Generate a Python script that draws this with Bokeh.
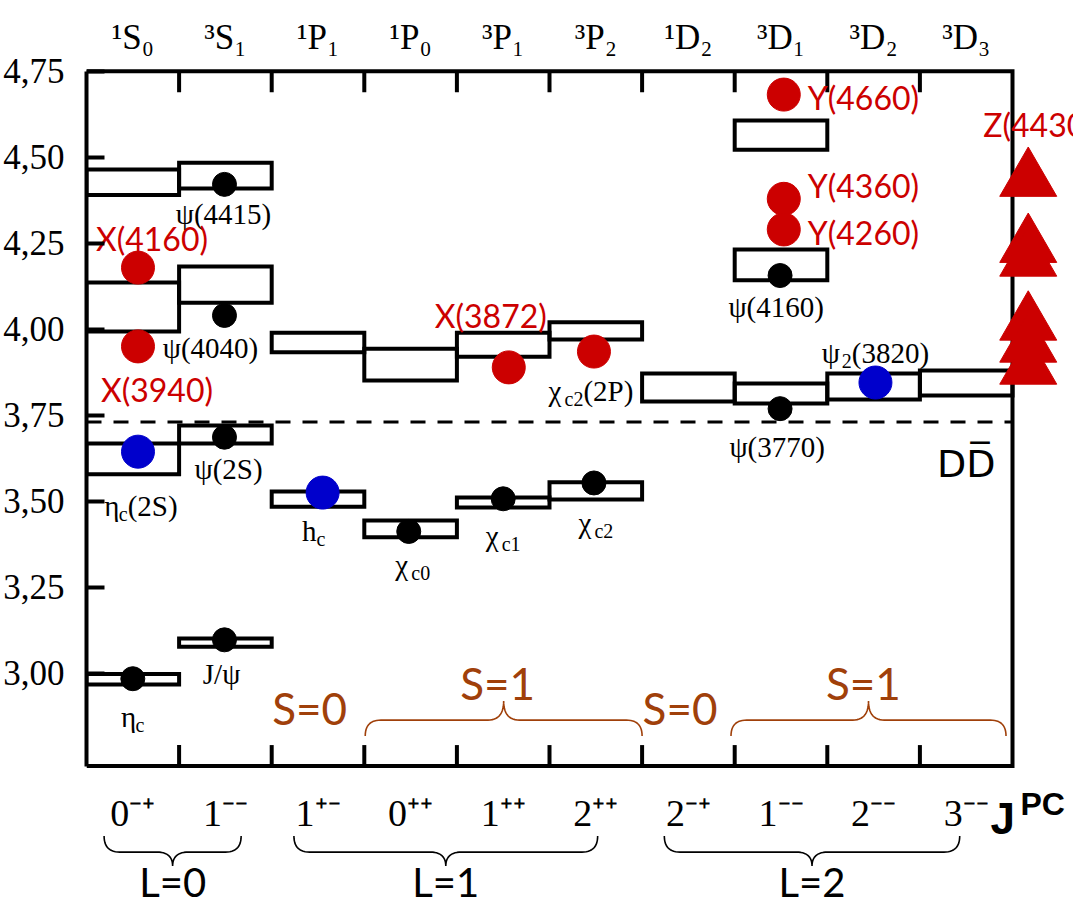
import numpy as np
from bokeh.plotting import figure
from bokeh.models import Range1d, FixedTicker, ColumnDataSource
from bokeh.core.properties import value
from bokeh.embed import file_html
from bokeh.resources import INLINE

# ------------------------------------------------------------------ data
spectroscopic = ["¹S₀", "³S₁", "¹P₁", "¹P₀", "³P₁", "³P₂", "¹D₂", "³D₁", "³D₂", "³D₃"]
jpc_labels = ["0⁻⁺", "1⁻⁻", "1⁺⁻", "0⁺⁺", "1⁺⁺", "2⁺⁺", "2⁻⁺", "1⁻⁻", "2⁻⁻", "3⁻⁻"]
mass_ticks = [3.00, 3.25, 3.50, 3.75, 4.00, 4.25, 4.50, 4.75]
mass_tick_labels = ["3,00", "3,25", "3,50", "3,75", "4,00", "4,25", "4,50", "4,75"]
mass_min, mass_max = 2.73, 4.75

# predicted levels (boxes): column, lower mass, upper mass (GeV)
box_column = [0, 0, 0, 0, 1, 1, 1, 1, 2, 2, 3, 3, 4, 4, 5, 5, 6, 7, 7, 7, 8, 9]
box_low = [4.390, 3.993, 3.578, 2.967, 4.409, 4.077, 3.668, 3.077, 3.933, 3.484,
           3.851, 3.395, 3.920, 3.482, 3.970, 3.505, 3.790, 4.522, 4.142, 3.784,
           3.796, 3.807]
box_high = [4.464, 4.136, 3.668, 2.998, 4.484, 4.182, 3.720, 3.101, 3.990, 3.528,
            3.943, 3.444, 3.990, 3.511, 4.020, 3.555, 3.871, 4.607, 4.232, 3.842,
            3.871, 3.880]

dd_threshold = 3.73
dd_label = "DD\u0305"

# observed conventional states (black)
black_names = ["η_c", "J/ψ", "ψ(2S)", "ψ(4040)", "ψ(4415)", "χ_c0", "χ_c1", "χ_c2", "ψ(4160)", "ψ(3770)"]
black_x = [0.50, 1.49, 1.49, 1.49, 1.49, 3.48, 4.50, 5.48, 7.49, 7.49]
black_mass = [2.984, 3.097, 3.686, 4.040, 4.421, 3.412, 3.507, 3.553, 4.156, 3.769]

# recently observed conventional states (blue)
blue_names = ["η_c(2S)", "h_c", "ψ_2(3820)"]
blue_x = [0.556, 2.55, 8.52]
blue_mass = [3.644, 3.525, 3.845]

# unexpected / exotic candidates (red circles)
red_names = ["X(4160)", "X(3940)", "X(3872)", "χ_c2(2P)", "Y(4660)", "Y(4360)", "Y(4260)"]
red_x = [0.556, 0.556, 4.56, 5.48, 7.53, 7.53, 7.53]
red_mass = [4.179, 3.950, 3.889, 3.935, 4.682, 4.379, 4.290]

# charged states (red triangles)
z_name = "Z(4430)"
z_x = [10.17, 10.17, 10.17, 10.17, 10.17, 10.17]
z_mass = [4.434, 4.242, 4.202, 4.016, 3.952, 3.888]

# spin / orbital groupings
s_labels = ["S=0", "S=1", "S=0", "S=1"]
s_label_x = [2.41, 4.44, 6.41, 8.39]
s_brace_start = [None, 3.01, None, 6.96]
s_brace_end = [None, 6.00, None, 9.93]
l_labels = ["L=0", "L=1", "L=2"]
l_brace_start = [0.19, 2.24, 6.24]
l_brace_end = [1.67, 5.52, 9.43]

# ------------------------------------------------------------------ layout / style
W_PX, H_PX = 1073, 907
LEFT = 86
PX_X = 92.6      # pixels per column
PX_Y = 344.0     # pixels per GeV
TOP_PAD = 70.7
SERIF = "Liberation Serif"
SANS = "Lato"
RED = "#CC0000"
BLUE = "#0000CC"
BROWN = "#A0400A"

n_cols = len(spectroscopic)
x_end = (W_PX - LEFT) / PX_X
y_top = mass_max + TOP_PAD / PX_Y
y_bottom = y_top - H_PX / PX_Y

p = figure(width=W_PX, height=H_PX, x_range=Range1d(0, x_end), y_range=Range1d(y_bottom, y_top),
           output_backend="svg", toolbar_location=None, x_axis_location=None,
           y_axis_location="left", min_border_left=LEFT, min_border_right=0,
           min_border_top=0, min_border_bottom=0)
p.outline_line_color = None
p.grid.visible = False
p.background_fill_color = "white"
p.border_fill_color = "white"

ax = p.yaxis[0]
ax.ticker = FixedTicker(ticks=mass_ticks)
ax.major_label_overrides = {t: l for t, l in zip(mass_ticks, mass_tick_labels)}
ax.bounds = (mass_min, mass_max)
ax.axis_line_width = 4
ax.axis_line_color = "black"
ax.major_tick_in = 18
ax.major_tick_out = 0
ax.major_tick_line_width = 4
ax.minor_tick_line_color = None
ax.major_label_standoff = 22
ax.major_label_text_font = SERIF
ax.major_label_text_font_size = "35px"
ax.major_label_text_color = "black"

# frame (top, right, bottom)
p.line([0, n_cols, n_cols, 0], [mass_max, mass_max, mass_min, mass_min],
       line_color="black", line_width=4, line_join="miter")
tick_len = 21 / PX_Y
bx = list(range(1, n_cols))
p.segment(x0=bx, y0=[mass_max] * len(bx), x1=bx, y1=[mass_max - tick_len] * len(bx),
          line_color="black", line_width=4)
p.segment(x0=bx, y0=[mass_min] * len(bx), x1=bx, y1=[mass_min + tick_len] * len(bx),
          line_color="black", line_width=4)

# boxes
p.quad(left=box_column, right=[c + 1 for c in box_column], bottom=box_low, top=box_high,
       fill_alpha=0, line_color="black", line_width=4, line_join="miter")

# threshold
p.line([0, n_cols], [dd_threshold, dd_threshold], line_color="black", line_width=3,
       line_dash="15 12")
p.text(x=[n_cols - 0.5], y=[dd_threshold], text=[dd_label], y_offset=42,
       text_align="center", text_baseline="middle", text_font=value("DejaVu Sans"),
       text_font_size="38px", text_color="black")

# markers
p.scatter(black_x, black_mass, size=24, color="black")
p.scatter(blue_x, blue_mass, size=33, color=BLUE)
p.scatter(red_x, red_mass, size=33, color=RED)
p.scatter(z_x, z_mass, marker="triangle", size=57, color=RED)

# ---- labels
W = {'0': .5, '1': .5, '2': .5, '3': .5, '4': .5, '5': .5, '6': .5, '7': .5, '8': .5, '9': .5,
     '(': .333, ')': .333, 'S': .556, 'P': .556, 'J': .389, '/': .278, 'h': .5, 'c': .444,
     'η': .5, 'χ': .55, 'ψ': .69}


def split_name(name):
    if "_" not in name:
        return [(name, False)]
    main, rest = name.split("_", 1)
    if "(" in rest:
        i = rest.index("(")
        return [(main, False), (rest[:i], True), (rest[i:], False)]
    return [(main, False), (rest, True)]


main_src = dict(x=[], y=[], text=[], xo=[], yo=[])
sub_src = dict(x=[], y=[], text=[], xo=[], yo=[])
SER_SIZE = 29
SUB_SIZE = 20


def add_serif(x, y, name, dx, dy):
    parts = split_name(name)
    widths = [sum(W.get(ch, .5) for ch in t) * (SUB_SIZE if s else SER_SIZE) for t, s in parts]
    cur = dx - sum(widths) / 2
    for (t, s), w in zip(parts, widths):
        d = sub_src if s else main_src
        d["x"].append(x); d["y"].append(y); d["text"].append(t)
        d["xo"].append(cur); d["yo"].append(dy + (8 if s else 0))
        cur += w


black_dx = [0, -2, 5, -13, 0, 4, 0, 2, -3, -2]
black_dy = [38, 34, 32, 33, 30, 34, 37, 40, 31, 38]
for x, m, n, dx, dy in zip(black_x, black_mass, black_names, black_dx, black_dy):
    add_serif(x, m, n, dx, dy)

blue_dx = [3, -9, 0]
blue_dy = [54, 38, -30]
for x, m, n, dx, dy in zip(blue_x, blue_mass, blue_names, blue_dx, blue_dy):
    add_serif(x, m, n, dx, dy)

red_dx = [14, 19, -18, -3, 24, 24, 24]
red_dy = [-29, 43, -52, 39, 3, -13, 3]
red_kind = ["c", "c", "c", "serif", "l", "l", "l"]
rc = dict(x=[], y=[], text=[], xo=[], yo=[])
rl = dict(x=[], y=[], text=[], xo=[], yo=[])
for x, m, n, dx, dy, k in zip(red_x, red_mass, red_names, red_dx, red_dy, red_kind):
    if k == "serif":
        add_serif(x, m, n, dx, dy)
        continue
    d = rc if k == "c" else rl
    d["x"].append(x); d["y"].append(m); d["text"].append(n); d["xo"].append(dx); d["yo"].append(dy)
rl["x"].append(z_x[0]); rl["y"].append(z_mass[0]); rl["text"].append(z_name)
rl["xo"].append(-45); rl["yo"].append(-55)

p.text(x="x", y="y", text="text", x_offset="xo", y_offset="yo", source=ColumnDataSource(main_src),
       text_align="left", text_baseline="middle", text_font=value(SERIF),
       text_font_size=f"{SER_SIZE}px", text_color="black")
p.text(x="x", y="y", text="text", x_offset="xo", y_offset="yo", source=ColumnDataSource(sub_src),
       text_align="left", text_baseline="middle", text_font=value(SERIF),
       text_font_size=f"{SUB_SIZE}px", text_color="black")
p.text(x="x", y="y", text="text", x_offset="xo", y_offset="yo", source=ColumnDataSource(rc),
       text_align="center", text_baseline="middle", text_font=value(SANS),
       text_font_size="32px", text_color=RED)
p.text(x="x", y="y", text="text", x_offset="xo", y_offset="yo", source=ColumnDataSource(rl),
       text_align="left", text_baseline="middle", text_font=value(SANS),
       text_font_size="32px", text_color=RED)

# column headers and J^PC row
centers = [i + 0.5 for i in range(n_cols)]
p.text(x=centers, y=[mass_max] * n_cols, text=spectroscopic, y_offset=-34,
       text_align="center", text_baseline="middle", text_font=value(SERIF),
       text_font_size="35px", text_color="black")
p.text(x=centers, y=[mass_min] * n_cols, text=jpc_labels, y_offset=47,
       text_align="center", text_baseline="middle", text_font=value(SERIF),
       text_font_size="38px", text_color="black")
p.text(x=[n_cols], y=[mass_min], text=["J"], x_offset=-22, y_offset=52,
       text_align="left", text_baseline="middle", text_font=value("Liberation Sans"),
       text_font_style="bold", text_font_size="44px", text_color="black")
p.text(x=[n_cols], y=[mass_min], text=["PC"], x_offset=8, y_offset=38,
       text_align="left", text_baseline="middle", text_font=value("Liberation Sans"),
       text_font_style="bold", text_font_size="32px", text_color="black")


# braces
def brace(x0, x1, y_end, y_mid, y_cusp, rx, n=14):
    xc = 0.5 * (x0 + x1)
    t = np.linspace(0, 1, n)

    def qb(a, c, b):
        return ((1 - t) ** 2 * a[0] + 2 * (1 - t) * t * c[0] + t ** 2 * b[0],
                (1 - t) ** 2 * a[1] + 2 * (1 - t) * t * c[1] + t ** 2 * b[1])
    segs = [qb((x0, y_end), (x0, y_mid), (x0 + rx, y_mid)),
            qb((xc - rx, y_mid), (xc, y_mid), (xc, y_cusp)),
            qb((xc, y_cusp), (xc, y_mid), (xc + rx, y_mid)),
            qb((x1 - rx, y_mid), (x1, y_mid), (x1, y_end))]
    return list(np.concatenate([s[0] for s in segs])), list(np.concatenate([s[1] for s in segs]))


sx, sy = [], []
for a, b in zip(s_brace_start, s_brace_end):
    if a is None:
        continue
    xs, ys = brace(a, b, mass_min + 30 / PX_Y, mass_min + 46 / PX_Y, mass_min + 65 / PX_Y, 0.17)
    sx.append(xs); sy.append(ys)
p.multi_line(sx, sy, line_color=BROWN, line_width=1.6)
s_dy = [-58 if lab == "S=0" else -83 for lab in s_labels]
p.text(x=s_label_x, y=[mass_min] * len(s_labels), text=s_labels, y_offset=s_dy,
       text_align="center", text_baseline="middle", text_font=value(SANS),
       text_font_size="44px", text_color=BROWN)

lx, ly = [], []
for a, b in zip(l_brace_start, l_brace_end):
    xs, ys = brace(a, b, mass_min - 70 / PX_Y, mass_min - 86 / PX_Y, mass_min - 100 / PX_Y, 0.17)
    lx.append(xs); ly.append(ys)
p.multi_line(lx, ly, line_color="black", line_width=1.6)
p.text(x=[(a + b) / 2 for a, b in zip(l_brace_start, l_brace_end)], y=[mass_min] * 3,
       text=l_labels, y_offset=116, text_align="center", text_baseline="middle",
       text_font=value(SANS), text_font_size="40px", text_color="black")

open("out.html", "w").write(file_html(p, INLINE))
